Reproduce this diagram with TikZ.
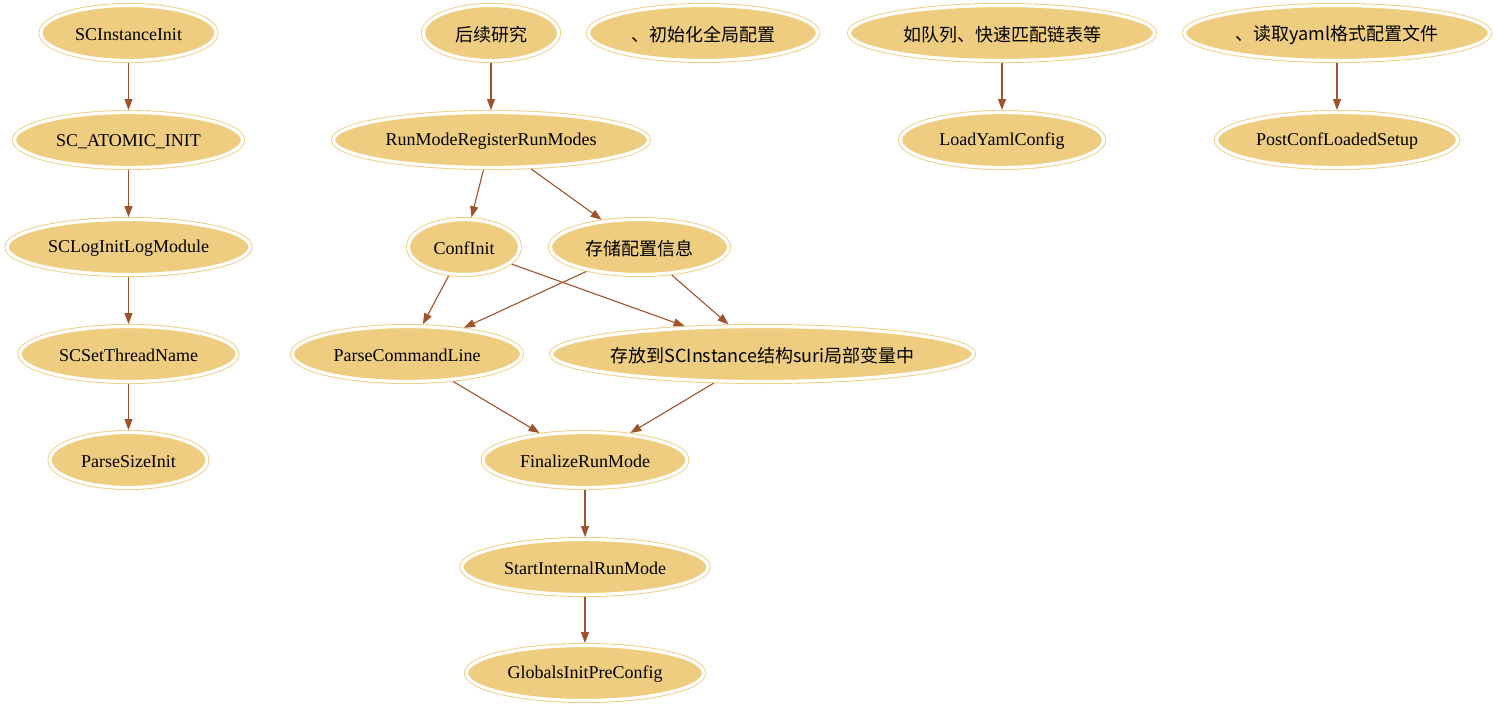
\documentclass[tikz,border=0pt]{standalone}
\usepackage{fontspec}
\setmainfont{Liberation Serif}
\newfontfamily\cjkfont{Noto Sans CJK SC}
\usetikzlibrary{shapes.geometric,arrows.meta}
\definecolor{nodegold}{RGB}{238,205,128}
\definecolor{edgesienna}{RGB}{160,82,45}
\tikzset{
  gnode/.style={ellipse, fill=nodegold, draw=nodegold, line width=0.9pt,
    double=white, double distance=3.2pt, inner sep=0pt, outer sep=2.5pt,
    minimum height=55pt, font=\fontsize{18}{20}\selectfont},
  flow/.style={draw=edgesienna, line width=1.1pt,
    -{Triangle[length=11pt,width=8pt]}}
}
% #1 name, #2 x, #3 y, #4 outer half-width, #5 label
\newcommand{\gnd}[5]{%
  \pgfmathsetmacro{\gw}{2*#4-5}%
  \node[gnode, minimum width=\gw pt] (#1) at (#2,#3)
    {\raisebox{-1.5pt}[\height][\depth]{\makebox[0pt]{#5}}};}
\begin{document}
\begin{tikzpicture}[x=1pt,y=-1pt]
\useasboundingbox (0,0) rectangle (1497,709);
% left chain
\gnd{inst}{128.5}{33}{90}{SCInstanceInit}
\gnd{atomic}{128.5}{140}{116.5}{SC\_ATOMIC\_INIT}
\gnd{loginit}{128.5}{247}{124}{SCLogInitLogModule}
\gnd{thread}{128.5}{354}{111}{SCSetThreadName}
\gnd{psize}{128.5}{460}{81}{ParseSizeInit}
% central chain
\gnd{later}{491}{33}{70}{\cjkfont 后续研究}
\gnd{regrm}{491}{140}{160}{RunModeRegisterRunModes}
\gnd{confinit}{464}{247}{58}{ConfInit}
\gnd{store}{639.5}{247}{91.5}{\cjkfont 存储配置信息}
\gnd{pcl}{407}{354}{117}{ParseCommandLine}
\gnd{suri}{762.5}{354}{213.5}{\cjkfont 存放到SCInstance结构suri局部变量中}
\gnd{finrm}{585}{460}{104.5}{FinalizeRunMode}
\gnd{startrm}{585}{567}{125.5}{StartInternalRunMode}
\gnd{globals}{585}{673}{121}{GlobalsInitPreConfig}
% top row notes
\gnd{globcfg}{703}{33}{117}{\cjkfont 、初始化全局配置}
\gnd{queue}{1002}{33}{155}{\cjkfont 如队列、快速匹配链表等}
\gnd{loadyaml}{1002}{140}{104}{LoadYamlConfig}
\gnd{readyaml}{1337}{33}{155}{\cjkfont 、读取yaml格式配置文件}
\gnd{postconf}{1337}{140}{123}{PostConfLoadedSetup}
% connectors
\draw[flow] (inst) -- (atomic);
\draw[flow] (atomic) -- (loginit);
\draw[flow] (loginit) -- (thread);
\draw[flow] (thread) -- (psize);
\draw[flow] (later) -- (regrm);
\draw[flow] (regrm) -- (confinit);
\draw[flow] (regrm) -- (store);
\draw[flow] (confinit) -- (pcl);
\draw[flow] (confinit) -- (suri);
\draw[flow] (store) -- (pcl);
\draw[flow] (store) -- (suri);
\draw[flow] (pcl) -- (finrm);
\draw[flow] (suri) -- (finrm);
\draw[flow] (finrm) -- (startrm);
\draw[flow] (startrm) -- (globals);
\draw[flow] (queue) -- (loadyaml);
\draw[flow] (readyaml) -- (postconf);
\end{tikzpicture}
\end{document}
